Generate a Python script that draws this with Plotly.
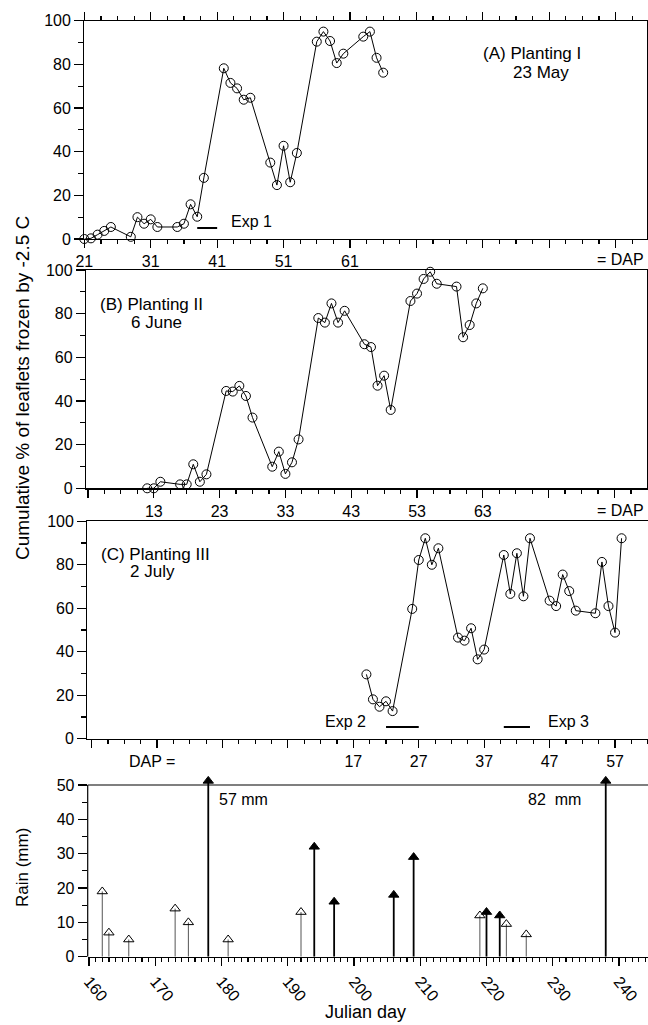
import plotly.graph_objects as go

# ---------------- data ----------------
A_DAP = [21, 22, 23, 24, 25, 28, 29, 30, 31, 32, 35, 36, 37, 38, 39, 42, 43, 44, 45, 46,
         49, 50, 51, 52, 53, 56, 57, 58, 59, 60, 63, 64, 65, 66]
A_PCT = [0, 0.3, 2, 3.7, 5.5, 1, 10, 7, 9, 5.5, 5.5, 7, 15.9, 10.2, 28, 78.2, 71.5, 69, 63.8, 64.7,
         35, 24.7, 42.7, 26, 39.4, 90.4, 95, 90.7, 80.6, 84.9, 92.7, 95, 83, 76.2]

B_DAP = [12, 13, 14, 17, 18, 19, 20, 21, 24, 25, 26, 27, 28, 31, 32, 33, 34, 35, 38, 39,
         40, 41, 42, 45, 46, 47, 48, 49, 52, 53, 54, 55, 56, 59, 60, 61, 62, 63]
B_PCT = [0, 0, 3, 1.8, 1.8, 11, 3, 6.4, 44.6, 44.3, 46.9, 42.3, 32.4, 9.9, 16.8, 6.6, 11.9, 22.4, 78, 75.9,
         84.7, 75.9, 81.3, 66, 64.7, 47, 51.6, 35.9, 85.8, 89.2, 95.9, 99.2, 93.7, 92.4, 69.2, 74.8, 84.7, 91.6]

C_DAP = [19, 20, 21, 22, 23, 26, 27, 28, 29, 30, 33, 34, 35, 36, 37, 40, 41, 42, 43, 44,
         47, 48, 49, 50, 51, 54, 55, 56, 57, 58]
C_PCT = [29.6, 18.1, 14.7, 17.2, 12.7, 59.7, 82.2, 92.2, 80, 87.6, 46.5, 45.1, 50.8, 36.5, 41,
         84.5, 66.6, 85.3, 65.5, 92.2, 63.5, 61, 75.5, 67.9, 58.9, 57.7, 81.3, 61, 48.8, 92.2]

EXP1_DAP = [38, 41]
EXP1_Y = [5, 5]
EXP2_DAP = [22, 27]
EXP2_Y = [5.4, 5.4]
EXP3_DAP = [40, 44]
EXP3_Y = [5.4, 5.4]

RAIN_DAY = [162, 163, 166, 173, 175, 178, 181, 192, 194, 197, 206, 209, 219, 220, 222, 223, 226, 238]
RAIN_MM = [19, 7, 5, 14, 10, 57, 5, 13, 32, 16, 18, 29, 12, 13, 12, 9.5, 6.5, 82]
RAIN_FILLED = [0, 0, 0, 0, 0, 1, 0, 0, 1, 1, 1, 1, 0, 1, 1, 0, 0, 1]
RAIN_TOP = 50

A_TICKS = [21, 31, 41, 51, 61]
B_TICKS = [13, 23, 33, 43, 53, 63]
C_TICKS = [17, 27, 37, 47, 57]
JULIAN_TICKS = [160, 170, 180, 190, 200, 210, 220, 230, 240]

# ---------------- layout helpers ----------------
W, H = 648, 1025
FONT = "Liberation Sans, Arial, Helvetica, sans-serif"


def fx(px):
    return px / W


def fy(py):
    return 1 - py / H


fig = go.Figure()

circ = dict(symbol="circle-open", size=9, color="black", line=dict(width=1, color="black"))


def panel(xs, ys, xa, ya):
    fig.add_trace(go.Scatter(x=xs, y=ys, mode="lines+markers", xaxis=xa, yaxis=ya,
                             line=dict(color="black", width=1), marker=circ,
                             cliponaxis=False, showlegend=False, hoverinfo="skip"))


def seg(xs, ys, xa, ya):
    fig.add_trace(go.Scatter(x=xs, y=ys, mode="lines", xaxis=xa, yaxis=ya,
                             line=dict(color="black", width=2), showlegend=False, hoverinfo="skip"))


panel(A_DAP, A_PCT, "x4", "y4")
panel(B_DAP, B_PCT, "x3", "y3")
panel(C_DAP, C_PCT, "x2", "y2")
seg(EXP1_DAP, EXP1_Y, "x4", "y4")
seg(EXP2_DAP, EXP2_Y, "x2", "y2")
seg(EXP3_DAP, EXP3_Y, "x2", "y2")

# rain stems and triangles (values above the 50 mm frame are drawn capped at its top)
R_YMAX = 53.0
for filled in (0, 1):
    sx, sy, mx, my = [], [], [], []
    for d, v, f in zip(RAIN_DAY, RAIN_MM, RAIN_FILLED):
        if f != filled:
            continue
        top = v if v <= RAIN_TOP else RAIN_TOP + 1.2
        sx += [d, d, None]
        sy += [0, top, None]
        mx.append(d)
        my.append(top)
    fig.add_trace(go.Scatter(x=sx, y=sy, mode="lines", xaxis="x", yaxis="y",
                             line=dict(color="black" if filled else "#555555",
                                       width=1.8 if filled else 1),
                             cliponaxis=False, showlegend=False, hoverinfo="skip"))
    fig.add_trace(go.Scatter(x=mx, y=my, mode="markers", xaxis="x", yaxis="y",
                             marker=dict(symbol="triangle-up" if filled else "triangle-up-open",
                                         size=9, color="black", line=dict(width=1, color="black")),
                             cliponaxis=False, showlegend=False, hoverinfo="skip"))

tickfont = dict(family=FONT, size=16, color="black")
base = dict(showline=True, linecolor="black", linewidth=1.2, ticks="outside", tickcolor="black",
            tickwidth=1.2, showgrid=False, zeroline=False, automargin=False, tickfont=tickfont,
            fixedrange=True)


def yax(dom, rng, dtick, mirror):
    return dict(base, domain=dom, range=rng, dtick=dtick, ticklen=9, mirror=mirror,
                minor=dict(ticks="outside", ticklen=5, dtick=dtick / 2, tickcolor="black",
                           tickwidth=1.2, showgrid=False))


def xdap(dom, rng, ticks, tick0, anchor, mirror=True):
    vals = [tick0 + 10 * k for k in range(12) if tick0 + 10 * k <= rng[1]]
    text = [str(v) if v in ticks else "" for v in vals]
    return dict(base, domain=dom, range=rng, anchor=anchor, tickmode="array", tickvals=vals,
                ticktext=text, ticklen=8, mirror=mirror,
                minor=dict(tickmode="linear", tick0=tick0, dtick=2.5, ticks="outside", ticklen=4,
                           tickcolor="black", tickwidth=1.2, showgrid=False))


A_RANGE = [21, 105.67]
B_RANGE = [2.7, 87.9]
C_RANGE = [-23.66, 62.04]
R_RANGE = [159.8, 244.38]

# rain panel: 0 at 956.7 px, 50 at 785 px
r_px_per_mm = (956.7 - 785) / 50.0
r_top_px = 956.7 - R_YMAX * r_px_per_mm

rain_y = dict(base, domain=[fy(956.7), fy(r_top_px)], range=[0, R_YMAX], anchor="x",
              tickmode="array", tickvals=[0, 10, 20, 30, 40, 50], ticklen=9, showline=False,
              minor=dict(tickmode="array", tickvals=[5, 15, 25, 35, 45], ticks="outside",
                         ticklen=5, tickcolor="black", tickwidth=1.2, showgrid=False))

fig.update_layout(
    width=W, height=H, margin=dict(l=0, r=0, t=0, b=0), template="none",
    paper_bgcolor="white", plot_bgcolor="rgba(0,0,0,0)", showlegend=False,
    font=dict(family=FONT, size=16, color="black"),
    # rain panel
    xaxis=dict(base, domain=[fx(87.7), 1], range=R_RANGE, anchor="y", tickmode="array",
               tickvals=JULIAN_TICKS, ticktext=[str(v) for v in JULIAN_TICKS], ticklen=8,
               tickangle=50, mirror=False,
               minor=dict(tickmode="linear", tick0=160, dtick=1, ticks="outside", ticklen=4,
                          tickcolor="black", tickwidth=1.2, showgrid=False)),
    yaxis=rain_y,
    # panel C
    xaxis2=xdap([fx(87.3), 1], C_RANGE, C_TICKS, -23, "y2"),
    yaxis2=dict(yax([fy(738.7), fy(521.3)], [0, 100], 20, False), anchor="x2"),
    # panel B
    xaxis3=xdap([fx(86), fx(646.7)], B_RANGE, B_TICKS, 3, "y3"),
    yaxis3=dict(yax([fy(488.3), fy(270)], [0, 100], 20, True), anchor="x3"),
    # panel A (ticks repeated along its top edge)
    xaxis4=xdap([fx(84.3), fx(646.7)], A_RANGE, A_TICKS, 21, "y4", mirror="allticks"),
    yaxis4=dict(yax([fy(239), fy(20.7)], [0, 100], 20, True), anchor="x4"),
)

# rain frame: left axis line (0-50) and top line at 50 mm
fig.add_shape(type="line", xref="x domain", yref="y", x0=0, x1=0, y0=0, y1=RAIN_TOP,
              line=dict(color="black", width=1.2))
fig.add_shape(type="line", xref="x domain", yref="y", x0=0, x1=1, y0=RAIN_TOP, y1=RAIN_TOP,
              line=dict(color="black", width=1.2))

anns = [
    ("(A) Planting I", 482, 53, "left", 17),
    ("23 May", 511.7, 72, "left", 17),
    ("(B) Planting II", 99.3, 304, "left", 17),
    ("6 June", 130, 322, "left", 17),
    ("(C) Planting III", 100, 554, "left", 17),
    ("2 July", 129, 571, "left", 17),
    ("Exp 1", 230, 221.7, "left", 16),
    ("Exp 2", 366.7, 721.7, "right", 16),
    ("Exp 3", 546.7, 721.7, "left", 16),
    ("57 mm", 218, 799, "left", 16),
    ("82\u00a0\u00a0mm", 526.7, 799, "left", 16),
    ("= DAP", 645, 259, "right", 16),
    ("= DAP", 645, 510, "right", 16),
    ("DAP =", 128, 761, "left", 16),
    ("Julian day", 366, 1012, "center", 18),
]
for t, x, y, anc, sz in anns:
    fig.add_annotation(text=t, x=fx(x), y=fy(y), xref="paper", yref="paper", xanchor=anc,
                       yanchor="middle", showarrow=False, borderpad=0,
                       font=dict(family=FONT, size=sz, color="black"))

fig.add_annotation(text="Cumulative % of leaflets frozen by -2.5 C", x=fx(22), y=fy(388),
                   xref="paper", yref="paper", textangle=-90, showarrow=False,
                   xanchor="center", yanchor="middle",
                   font=dict(family=FONT, size=19, color="black"))
fig.add_annotation(text="Rain (mm)", x=fx(22), y=fy(868), xref="paper", yref="paper",
                   textangle=-90, showarrow=False, xanchor="center", yanchor="middle",
                   font=dict(family=FONT, size=17, color="black"))

fig.write_html("out.html", config={"displayModeBar": False, "staticPlot": True},
               post_script="document.body.style.margin='0px';document.body.style.padding='0px';"
                           "document.documentElement.style.overflow='hidden';")
